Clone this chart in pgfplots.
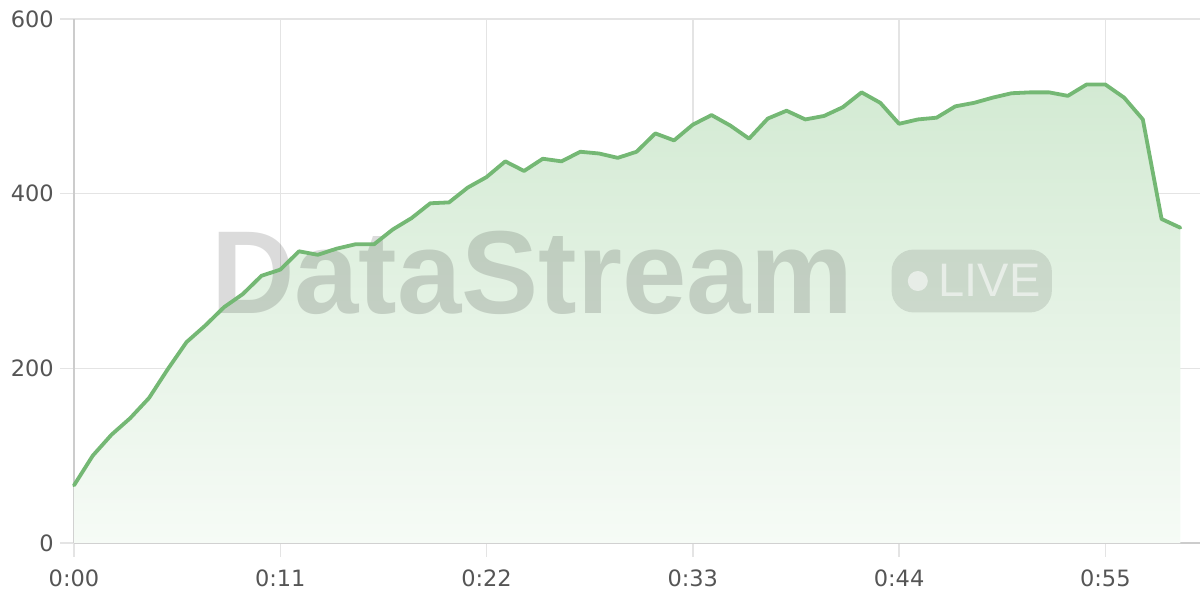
\documentclass[border=0pt]{standalone}
\usepackage{pgfplots}
\pgfplotsset{compat=1.18}
\usepackage{fontspec}
\setmainfont{DejaVu Sans}
\newfontfamily\wmfont{Liberation Sans}
\definecolor{linegreen}{HTML}{74B874}
\definecolor{filltop}{HTML}{D3EAD3}
\definecolor{fillbot}{HTML}{F6FBF6}
\definecolor{gridc}{HTML}{E4E4E4}
\definecolor{axisc}{HTML}{CCCCCC}
\definecolor{labc}{HTML}{555555}
\begin{document}
\begin{tikzpicture}
\path[use as bounding box] (-74pt,-57pt) rectangle (1126pt,543pt);
\begin{axis}[
  scale only axis,
  width=1126pt, height=524pt,
  xmin=0, xmax=60.05, ymin=0, ymax=600,
  axis x line*=bottom, axis y line*=left,
  axis line style={draw=axisc, line width=1.5pt},
  x axis line style={-}, y axis line style={-},
  xtick={0,11,22,33,44,55},
  xticklabels={0:00,0:11,0:22,0:33,0:44,0:55},
  ytick={0,200,400,600},
  grid=major,
  grid style={draw=gridc, line width=1.4pt},
  tick align=outside,
  major tick length=14pt,
  tick style={draw=gridc, line width=1.4pt},
  ticklabel style={font=\fontsize{22.5}{26}\selectfont, text=labc},
  xticklabel style={inner sep=0pt, yshift=-13pt},
  yticklabel style={inner sep=0pt, xshift=-6pt},
  /pgf/number format/assume math mode=true,
  clip=false,
]
\addplot[draw=none, top color=filltop, bottom color=fillbot] coordinates {
(0,66)(1,100)(2,124)(3,143)(4,166)(5,199)(6,230)(7,249)(8,270)(9,285)
(10,306)(11,313)(12,334)(13,330)(14,337)(15,342)(16,342)(17,359)(18,372)(19,389)
(20,390)(21,407)(22,419)(23,437)(24,426)(25,440)(26,437)(27,448)(28,446)(29,441)
(30,448)(31,469)(32,461)(33,479)(34,490)(35,478)(36,463)(37,486)(38,495)(39,485)
(40,489)(41,499)(42,516)(43,504)(44,480)(45,485)(46,487)(47,500)(48,504)(49,510)
(50,515)(51,516)(52,516)(53,512)(54,525)(55,525)(56,510)(57,485)(58,371)(59,361)
} \closedcycle;
\node[font=\wmfont\bfseries\fontsize{118}{118}\selectfont, text=black, text opacity=0.14, anchor=base west, inner sep=0pt, xscale=0.98] at (axis cs:7.3,263) {DataStream};
\fill[black, opacity=0.1, rounded corners=22pt] (axis cs:43.6,264) rectangle (axis cs:52.15,336);
\fill[white, opacity=0.55] (axis cs:45.0,300) circle (10pt);
\node[font=\wmfont\fontsize{47}{47}\selectfont, text=white, text opacity=0.55, anchor=base west, inner sep=0pt] at (axis cs:46.1,282) {LIVE};
\addplot[linegreen, line width=3.8pt, line join=round, line cap=round] coordinates {
(0,66)(1,100)(2,124)(3,143)(4,166)(5,199)(6,230)(7,249)(8,270)(9,285)
(10,306)(11,313)(12,334)(13,330)(14,337)(15,342)(16,342)(17,359)(18,372)(19,389)
(20,390)(21,407)(22,419)(23,437)(24,426)(25,440)(26,437)(27,448)(28,446)(29,441)
(30,448)(31,469)(32,461)(33,479)(34,490)(35,478)(36,463)(37,486)(38,495)(39,485)
(40,489)(41,499)(42,516)(43,504)(44,480)(45,485)(46,487)(47,500)(48,504)(49,510)
(50,515)(51,516)(52,516)(53,512)(54,525)(55,525)(56,510)(57,485)(58,371)(59,361)
};
\end{axis}
\end{tikzpicture}
\end{document}
